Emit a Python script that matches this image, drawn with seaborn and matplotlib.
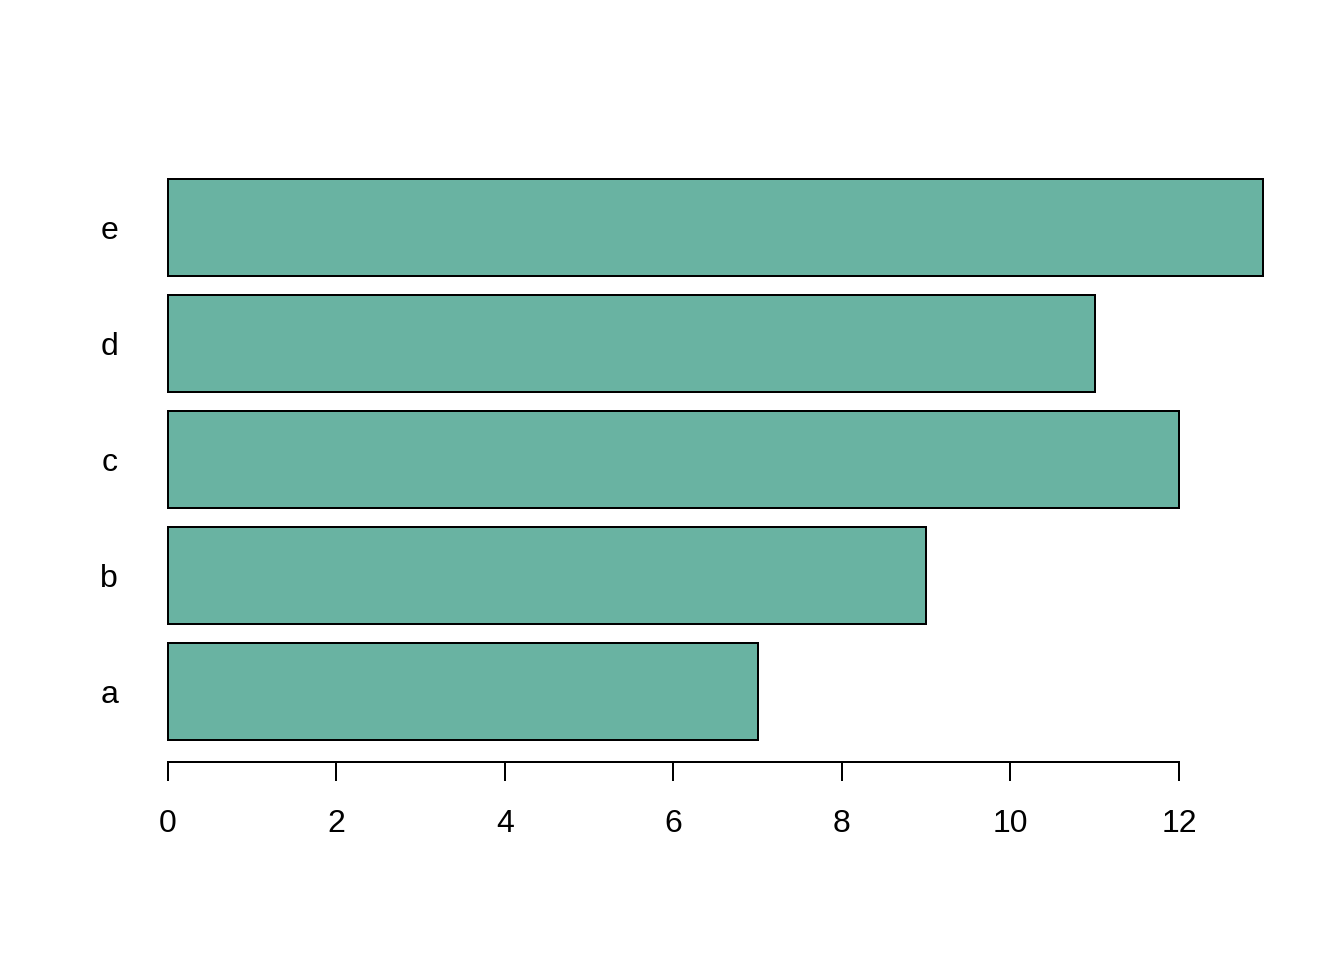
import numpy as np
import pandas as pd
import seaborn as sns
import matplotlib
matplotlib.use("Agg")
import matplotlib.pyplot as plt

# data
names = ["a", "b", "c", "d", "e"]
values = [7, 9, 12, 11, 13]
xticks = [0, 2, 4, 6, 8, 10, 12]

df = pd.DataFrame({"name": names, "value": values})

sns.set_style("white")
plt.rcParams["font.family"] = ["Liberation Sans", "DejaVu Sans"]
plt.rcParams["font.size"] = 12
plt.rcParams["text.color"] = "black"
plt.rcParams["xtick.color"] = "black"
plt.rcParams["ytick.color"] = "black"

fig = plt.figure(figsize=(7, 5), dpi=192)
ax = fig.add_axes([0.0924, 0.206, 0.8801, 0.631])

sns.barplot(data=df, x="value", y="name", order=names[::-1], orient="h",
            color="#69b3a2", saturation=1, width=1 / 1.2,
            edgecolor="black", linewidth=0.75, ax=ax)

ax.set_xlim(-0.52, 13.52)
ax.set_ylim(4.61, -0.61)
ax.set_xticks(xticks)
ax.set_xlabel("")
ax.set_ylabel("")

for s in ["top", "right", "left"]:
    ax.spines[s].set_visible(False)
ax.spines["bottom"].set_bounds(0, 12)
ax.spines["bottom"].set_linewidth(0.75)
ax.spines["bottom"].set_color("black")

ax.tick_params(axis="x", direction="out", length=7.2, width=0.75,
               color="black", labelcolor="black", pad=10.5, labelsize=12,
               bottom=True)
ax.tick_params(axis="y", length=0, pad=2.3, labelsize=12, labelcolor="black")

fig.savefig("out.png", dpi=192)
